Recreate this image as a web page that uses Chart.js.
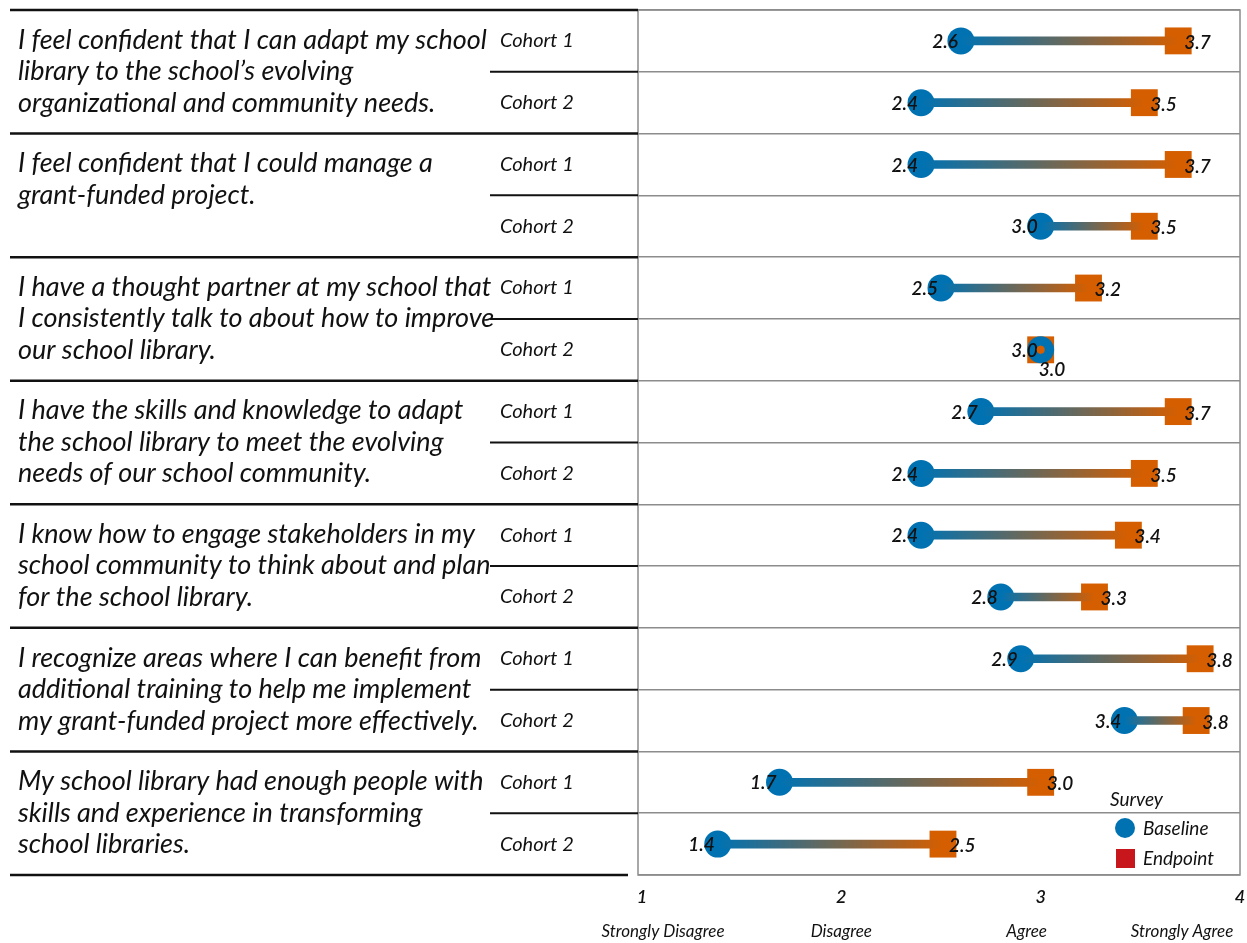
<!DOCTYPE html>
<html>
<head>
<meta charset="utf-8">
<script src="https://cdn.jsdelivr.net/npm/chart.js@4.4.1/dist/chart.umd.min.js"></script>
<style>
  html, body { margin: 0; padding: 0; background: #fff; }
  #wrap { width: 1247px; height: 943px; position: relative; }
</style>
</head>
<body>
<div id="wrap"><canvas id="chart"></canvas></div>
<script>
// Survey items (already wrapped the way they appear)
const questions = [
  ["I feel confident that I can adapt my school", "library to the school\u2019s evolving", "organizational and community needs."],
  ["I feel confident that I could manage a", "grant-funded project."],
  ["I have a thought partner at my school that", "I consistently talk to about how to improve", "our school library."],
  ["I have the skills and knowledge to adapt", "the school library to meet the evolving", "needs of our school community."],
  ["I know how to engage stakeholders in my", "school community to think about and plan", "for the school library."],
  ["I recognize areas where I can benefit from", "additional training to help me implement", "my grant-funded project more effectively."],
  ["My school library had enough people with", "skills and experience in transforming", "school libraries."]
];
const cohorts = ["Cohort 1", "Cohort 2"];

// one row per question x cohort
const baseline = [2.60, 2.40, 2.40, 3.00, 2.50, 3.00, 2.70, 2.40, 2.40, 2.80, 2.90, 3.42, 1.69, 1.38];
const endpoint = [3.69, 3.52, 3.69, 3.52, 3.24, 3.00, 3.69, 3.52, 3.44, 3.27, 3.80, 3.78, 3.00, 2.51];

const xTicks = [1, 2, 3, 4];
const xTickNames = ["Strongly Disagree", "Disagree", "Agree", "Strongly Agree"];

const rows = [];
questions.forEach((q, qi) => cohorts.forEach((c) => rows.push(`Q${qi + 1} ${c}`)));

const BLUE = "#0072b2";
const ORANGE = "#d55e00";
const LEGEND_RED = "#c8161d";
const FONT = "Lato, 'Open Sans', sans-serif";

// gradient for the connecting line, built from the scale pixels
function lineGradient(context) {
  const chart = context.chart;
  const x = chart.scales.x;
  if (!chart.chartArea || !x || context.dataIndex === undefined) return BLUE;
  const i = context.dataIndex;
  const x0 = x.getPixelForValue(baseline[i]);
  const x1 = x.getPixelForValue(endpoint[i]);
  if (Math.abs(x1 - x0) < 1) return ORANGE;
  const g = chart.ctx.createLinearGradient(x0, 0, x1, 0);
  g.addColorStop(0, BLUE);
  g.addColorStop(1, ORANGE);
  return g;
}

const tablePlugin = {
  id: "table",
  afterDraw(chart) {
    const ctx = chart.ctx;
    const area = chart.chartArea;
    const y = chart.scales.y;
    const x = chart.scales.x;
    const step = y.getPixelForValue(1) - y.getPixelForValue(0);

    ctx.save();
    // plot box
    ctx.strokeStyle = "#8c8c8c";
    ctx.lineWidth = 1.5;
    ctx.strokeRect(area.left, area.top, area.right - area.left, area.bottom - area.top);

    // black rules in the label area
    ctx.strokeStyle = "#111";
    rows.forEach((r, i) => {
      const top = y.getPixelForValue(i) - step / 2;
      if (i % 2 === 0) {
        ctx.lineWidth = 2.5;
        ctx.beginPath();
        ctx.moveTo(10, top);
        ctx.lineTo(area.left, top);
        ctx.stroke();
      } else {
        ctx.lineWidth = 2;
        ctx.beginPath();
        ctx.moveTo(490, top);
        ctx.lineTo(area.left, top);
        ctx.stroke();
      }
    });
    ctx.lineWidth = 2.5;
    ctx.beginPath();
    ctx.moveTo(10, area.bottom);
    ctx.lineTo(area.left - 10, area.bottom);
    ctx.stroke();

    // question text
    ctx.fillStyle = "#111";
    ctx.textBaseline = "middle";
    ctx.textAlign = "left";
    ctx.font = `italic 27px ${FONT}`;
    questions.forEach((lines, qi) => {
      const top = y.getPixelForValue(qi * 2) - step / 2;
      lines.forEach((ln, li) => ctx.fillText(ln, 18, top + 30 + li * 31.5));
    });

    // cohort labels
    ctx.font = `italic 20px ${FONT}`;
    rows.forEach((r, i) => ctx.fillText(cohorts[i % 2], 500, y.getPixelForValue(i)));

    // scale descriptors under the tick numbers
    ctx.font = `italic 17px ${FONT}`;
    ctx.textAlign = "center";
    const nameShift = [21, 0, -14, -58];
    xTicks.forEach((t, i) => ctx.fillText(xTickNames[i], x.getPixelForValue(t) + nameShift[i], 932));

    // legend
    ctx.font = `italic 19px ${FONT}`;
    ctx.textAlign = "left";
    ctx.fillText("Survey", 1110, 800);
    ctx.fillStyle = BLUE;
    ctx.beginPath();
    ctx.arc(1125, 828, 10, 0, Math.PI * 2);
    ctx.fill();
    ctx.fillStyle = LEGEND_RED;
    ctx.fillRect(1116, 849, 19, 19);
    ctx.fillStyle = "#111";
    ctx.fillText("Baseline", 1143, 829);
    ctx.fillText("Endpoint", 1143, 859);
    ctx.restore();
  },
  afterDatasetsDraw(chart) {
    const ctx = chart.ctx;
    const base = chart.getDatasetMeta(1).data;
    const end = chart.getDatasetMeta(2).data;
    ctx.save();
    ctx.fillStyle = "#111";
    ctx.font = `italic 600 19px ${FONT}`;
    ctx.textBaseline = "middle";
    base.forEach((p, i) => {
      ctx.textAlign = "right";
      ctx.fillText(baseline[i].toFixed(1), p.x - 3, p.y + 1);
      const q = end[i];
      ctx.textAlign = "left";
      if (Math.abs(endpoint[i] - baseline[i]) < 0.05) {
        // same value: small endpoint dot inside the circle, label pushed below
        ctx.fillStyle = ORANGE;
        ctx.beginPath();
        ctx.arc(q.x, q.y, 4, 0, Math.PI * 2);
        ctx.fill();
        ctx.fillStyle = "#111";
        ctx.fillText(endpoint[i].toFixed(1), q.x - 2, q.y + 20);
      } else {
        ctx.fillText(endpoint[i].toFixed(1), q.x + 6, q.y + 2);
      }
    });
    ctx.restore();
  }
};

new Chart(document.getElementById("chart"), {
  type: "bar",
  data: {
    labels: rows,
    datasets: [
      {
        label: "Change",
        data: baseline.map((b, i) => [b, endpoint[i]]),
        backgroundColor: lineGradient,
        barThickness: 8,
        borderSkipped: false,
        order: 0
      },
      {
        type: "line",
        label: "Baseline",
        data: baseline,
        showLine: false,
        pointStyle: "circle",
        pointRadius: 13.5,
        pointBackgroundColor: BLUE,
        pointBorderWidth: 0,
        order: 1
      },
      {
        type: "line",
        label: "Endpoint",
        data: endpoint,
        showLine: false,
        pointStyle: "rect",
        pointRadius: 19,
        pointBackgroundColor: ORANGE,
        pointBorderWidth: 0,
        order: 2
      }
    ]
  },
  options: {
    indexAxis: "y",
    responsive: true,
    maintainAspectRatio: false,
    animation: false,
    layout: { autoPadding: false, padding: { left: 10, top: 10, right: 7, bottom: 0 } },
    plugins: {
      legend: { display: false },
      tooltip: { enabled: false }
    },
    scales: {
      x: {
        type: "linear",
        min: 0.98,
        max: 4,
        afterBuildTicks: (s) => { s.ticks = xTicks.map((v) => ({ value: v })); },
        afterFit: (s) => {
          s.height = 68;
          s.paddingLeft = 0;
          s.paddingRight = 0;
        },
        grid: { display: false, drawTicks: false },
        border: { display: false },
        ticks: {
          padding: 11,
          color: "#111",
          font: { family: FONT, size: 18, style: "italic", weight: "600" }
        }
      },
      y: {
        type: "category",
        offset: true,
        afterFit: (s) => { s.width = 628; },
        grid: { offset: true, color: "#8c8c8c", lineWidth: 1.5, drawTicks: false },
        border: { display: false },
        ticks: { display: false }
      }
    }
  },
  plugins: [tablePlugin]
});
</script>
</body>
</html>
